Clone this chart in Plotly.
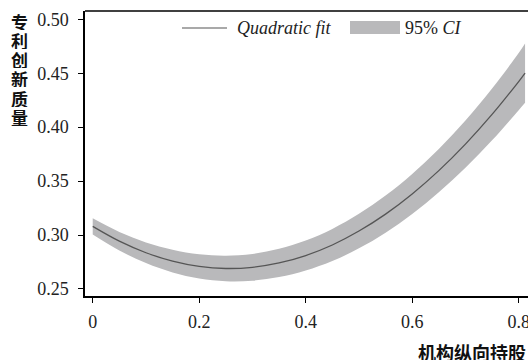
import plotly.graph_objects as go

# Values
x_vals = [0.0, 0.05, 0.10, 0.15, 0.20, 0.25, 0.30, 0.35, 0.40, 0.45,
          0.50, 0.55, 0.60, 0.65, 0.70, 0.75, 0.80, 0.812]
fit_vals = [0.3080, 0.2943, 0.2836, 0.2758, 0.2709, 0.2690, 0.2701, 0.2741, 0.2810, 0.2908,
            0.3037, 0.3194, 0.3381, 0.3597, 0.3843, 0.4118, 0.4423, 0.4501]
ci_lower = [0.3005, 0.2857, 0.2740, 0.2653, 0.2597, 0.2572, 0.2577, 0.2610, 0.2671, 0.2759,
            0.2877, 0.3022, 0.3195, 0.3396, 0.3625, 0.3878, 0.4158, 0.4226]
ci_upper = [0.3155, 0.3029, 0.2932, 0.2863, 0.2821, 0.2808, 0.2825, 0.2872, 0.2949, 0.3057,
            0.3197, 0.3366, 0.3567, 0.3798, 0.4061, 0.4358, 0.4688, 0.4776]

x_tickvals = [0, 0.2, 0.4, 0.6, 0.8]
x_ticktext = ["0", "0.2", "0.4", "0.6", "0.8"]
y_tickvals = [0.25, 0.30, 0.35, 0.40, 0.45, 0.50]

legend_fit = "<i>Quadratic fit</i>"
legend_ci = "95% <i>CI</i>"
y_title = "专利创新质量"
x_title = "机构纵向持股"

BAND = "rgb(185,185,187)"
LINE = "rgb(85,85,85)"
SERIF = "Times New Roman, Liberation Serif, serif"
CJK = "Noto Sans CJK SC"

fig = go.Figure()
fig.add_trace(go.Scatter(x=x_vals, y=ci_lower, mode="lines", line=dict(width=0, shape="spline"),
                         hoverinfo="skip", showlegend=False))
fig.add_trace(go.Scatter(x=x_vals, y=ci_upper, mode="lines", line=dict(width=0, shape="spline"),
                         fill="tonexty", fillcolor=BAND, name=legend_ci, showlegend=False))
fig.add_trace(go.Scatter(x=x_vals, y=fit_vals, mode="lines",
                         line=dict(color=LINE, width=1.3, shape="spline"),
                         name=legend_fit, showlegend=False))

W, H = 528, 360
ml, mr, mt, mb = 85, 0, 11, 64
pw, ph = W - ml - mr, H - mt - mb

def px(X):
    return (X - ml) / pw

def py(Y):
    return (H - mb - Y) / ph

axis_common = dict(showline=True, linecolor="black", linewidth=1.5, ticks="outside",
                   ticklen=5, tickwidth=1.3, tickcolor="black", showgrid=False, zeroline=False,
                   automargin=False,
                   tickfont=dict(family=SERIF, size=18, color="#222"))

fig.update_xaxes(range=[-0.0145, 0.8175], tickvals=x_tickvals, ticktext=x_ticktext,
                 ticklabeloverflow="allow", ticklabelstandoff=4, **axis_common)
fig.update_yaxes(range=[0.2435, 0.5077], tickvals=y_tickvals, tickformat=".2f",
                 ticklabelstandoff=6, **axis_common)

shapes = [
    # top frame line
    dict(type="line", xref="paper", yref="paper", x0=0, x1=1, y0=1, y1=1,
         line=dict(color="black", width=1.5)),
    # legend: line sample
    dict(type="line", xref="paper", yref="paper", x0=px(182), x1=px(227), y0=py(28), y1=py(28),
         line=dict(color=LINE, width=1.2)),
    # legend: band sample
    dict(type="rect", xref="paper", yref="paper", x0=px(350), x1=px(400), y0=py(34), y1=py(21),
         line=dict(width=0), fillcolor=BAND),
]

annotations = [
    dict(text=legend_fit, xref="paper", yref="paper", x=px(235), y=py(28), xanchor="left",
         yanchor="middle", showarrow=False, font=dict(family=SERIF, size=18, color="#222")),
    dict(text=legend_ci, xref="paper", yref="paper", x=px(403), y=py(28), xanchor="left",
         yanchor="middle", showarrow=False, font=dict(family=SERIF, size=18, color="#222")),
    dict(text="<b>" + x_title + "</b>", xref="paper", yref="paper", x=px(416), y=py(352),
         xanchor="left", yanchor="middle", showarrow=False,
         font=dict(family=CJK, size=18, color="#111")),
]
for i, ch in enumerate(y_title):
    annotations.append(dict(text="<b>" + ch + "</b>", xref="paper", yref="paper",
                            x=px(19), y=py(20.5 + i * 19.3), xanchor="center", yanchor="middle",
                            height=18, showarrow=False,
                            font=dict(family=CJK, size=17, color="#111")))

fig.update_layout(template="none", width=W, height=H, margin=dict(l=ml, r=mr, t=mt, b=mb),
                  font=dict(family=SERIF, size=18, color="#222"),
                  plot_bgcolor="white", paper_bgcolor="white",
                  shapes=shapes, annotations=annotations, showlegend=False)

fig.write_html("out.html", config={"displayModeBar": False},
               post_script="document.body.style.margin='0';document.body.style.overflow='hidden';")
